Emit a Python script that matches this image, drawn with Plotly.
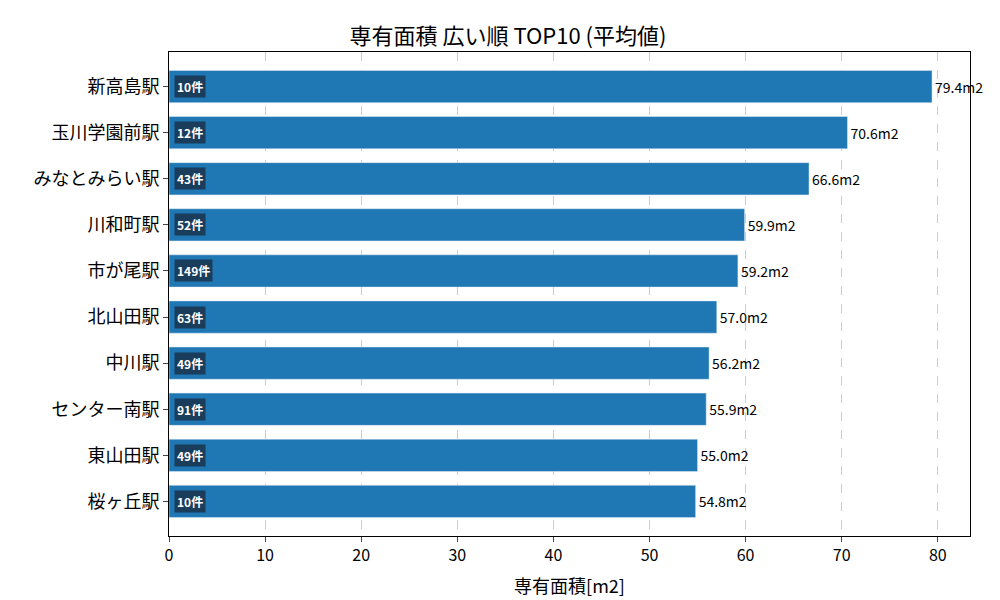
import plotly.graph_objects as go

stations = ["新高島駅","玉川学園前駅","みなとみらい駅","川和町駅","市が尾駅","北山田駅","中川駅","センター南駅","東山田駅","桜ヶ丘駅"]
areas = [79.4,70.6,66.6,59.9,59.2,57.0,56.2,55.9,55.0,54.8]
counts = [10,12,43,52,149,63,49,91,49,10]

font = "Noto Sans CJK JP"
fig = go.Figure(go.Bar(
    x=areas, y=stations, orientation="h", width=0.7,
    marker=dict(color="#1f77b4"),
    text=[f"{a:.1f}m2" for a in areas], textposition="outside",
    textfont=dict(size=14, color="black", family=font), cliponaxis=False,
))
for s, c in zip(stations, counts):
    fig.add_annotation(x=0.5, y=s, text=f"<b>{c}件</b>", showarrow=False, xanchor="left",
                       font=dict(color="white", size=12, family=font),
                       bgcolor="#1a3d5c", borderpad=2)
fig.update_layout(
    width=1000, height=600, plot_bgcolor="white", paper_bgcolor="white",
    margin=dict(l=161, r=38, t=44, b=72),
    font=dict(family=font, size=16, color="black"),
    title=dict(text="専有面積 広い順 TOP10 (平均値)", x=0.5, xanchor="center", y=0.965, font=dict(size=22)),
    showlegend=False,
)
fig.update_xaxes(range=[0, 83.35], dtick=10, showgrid=True, gridcolor="#cccccc", griddash="dash",
                 showline=True, linecolor="black", mirror=True, ticks="outside",
                 title=dict(text="専有面積[m2]", font=dict(size=18)), zeroline=False)
fig.update_yaxes(autorange="reversed", showline=True, linecolor="black", mirror=True,
                 ticks="outside", range=[9.75, -0.75], tickfont=dict(size=18))
fig.update_yaxes(autorange=False)
fig.write_html("out.html")
